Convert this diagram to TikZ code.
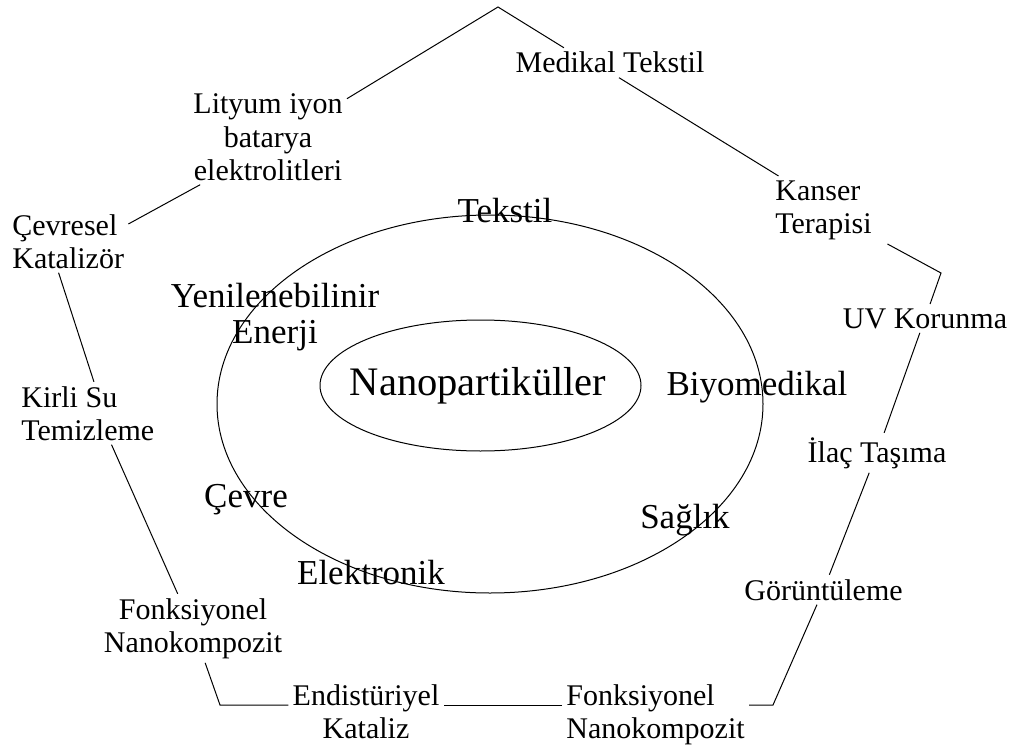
\documentclass[tikz,border=0pt]{standalone}
\usepackage{fontspec}
\setmainfont{Liberation Serif}
\tikzset{
  outer/.style={font=\fontsize{15}{16.5}\selectfont, inner sep=2pt, align=center, anchor=base},
  outerl/.style={outer, align=left, anchor=base west},
  inner/.style={font=\fontsize{17.5}{18}\selectfont, inner sep=2pt, align=center, anchor=base},
  edge/.style={line width=0.5pt}}
\begin{document}
\begin{tikzpicture}[x=0.5pt, y=-0.5pt]
  \useasboundingbox (0,0) rectangle (1012,749);
  % rings
  \draw[edge] (490,404) ellipse [x radius=273, y radius=189];
  \draw[edge] (480.5,385.5) ellipse [x radius=160.5, y radius=65.5];
  % inner labels
  \node[inner, font=\fontsize{20.25}{22}\selectfont] (nano) at (478,395) {Nanopartiküller};
  \node[inner] (tek) at (505,222) {Tekstil};
  \node[inner] (yen) at (275,343) {Yenilenebilinir\\Enerji};
  \node[inner] (bio) at (757,395) {Biyomedikal};
  \node[inner] (cevre) at (246,507) {Çevre};
  \node[inner] (sag) at (685,528) {Sağlık};
  \node[inner] (elek) at (371,584) {Elektronik};
  % outer labels (base = last line)
  \node[outer] (med) at (610,73) {Medikal Tekstil};
  \node[outer] (lit) at (268,180) {Lityum iyon\\batarya\\elektrolitleri};
  \node[outerl] (cev) at (8,268) {Çevresel\\Katalizör};
  \node[outerl] (kir) at (17,440) {Kirli Su\\Temizleme};
  \node[outer] (fonL) at (193,652) {Fonksiyonel\\Nanokompozit};
  \node[outer] (endi) at (366,738) {Endistüriyel\\Kataliz};
  \node[outerl] (fonR) at (562,738) {Fonksiyonel\\Nanokompozit};
  \node[outer] (gor) at (823.5,600) {Görüntüleme};
  \node[outer] (ilac) at (877,462) {İlaç Taşıma};
  \node[outer] (uv) at (925,328) {UV Korunma};
  \node[outerl] (kan) at (771,233) {Kanser\\Terapisi};
  % pentagon corners
  \coordinate (vTop) at (498,7);
  \coordinate (vR) at (941,273);
  \coordinate (vBR) at (773,705);
  \coordinate (vBL) at (220,705);
  % pentagon sides
  \draw[edge] (lit.26) -- (vTop) -- (med.162);
  \draw[edge] (med.-59) -- (kan.143);
  \draw[edge, shorten <=6.5pt] (kan.-28) -- (vR) -- (uv);
  \draw[edge] (uv) -- (ilac);
  \draw[edge] (ilac) -- (gor);
  \draw[edge] (gor) -- (vBR) -- (fonR.east |- vBR);
  \draw[edge] (fonR.west |- vBR) -- (endi.east |- vBR);
  \draw[edge] (endi.west |- vBL) -- (vBL) -- (fonL);
  \draw[edge] (fonL) -- (kir.-53);
  \draw[edge] (kir.79) -- (cev.-107);
  \draw[edge] (cev.16) -- (lit.-145);
\end{tikzpicture}
\end{document}
